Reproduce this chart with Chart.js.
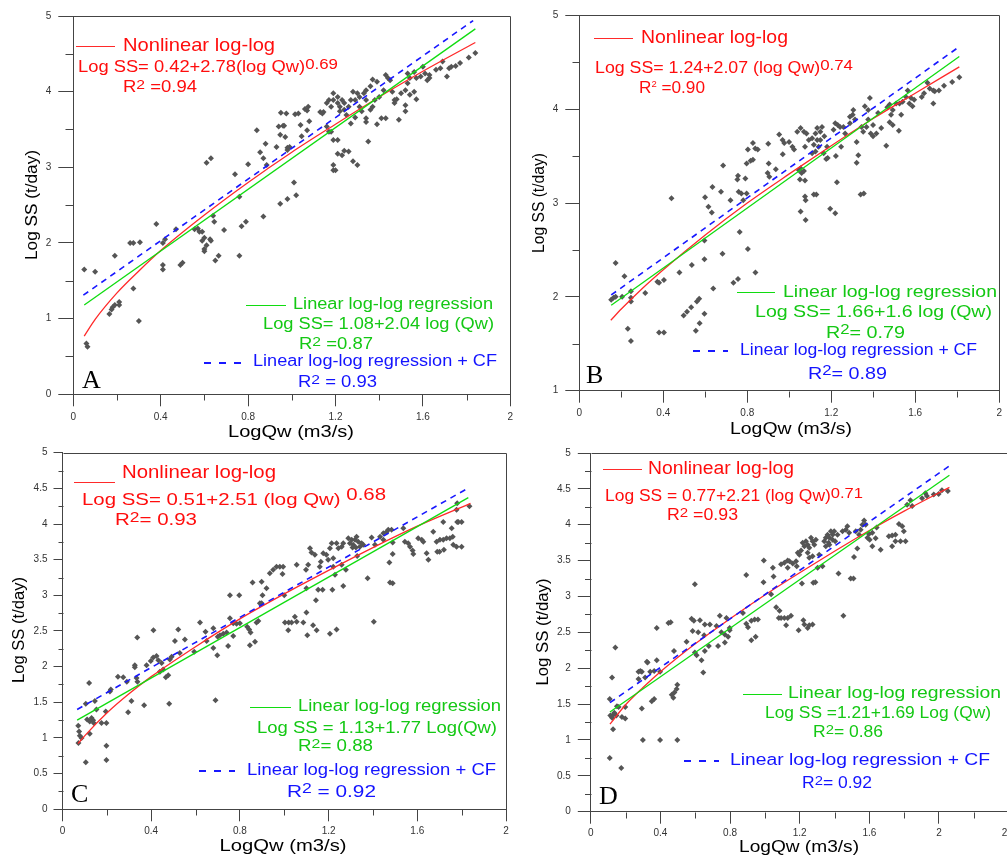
<!DOCTYPE html>
<html><head><meta charset="utf-8">
<script src="https://cdn.jsdelivr.net/npm/chart.js@4/dist/chart.umd.min.js"></script>
<style>
html,body{margin:0;padding:0;background:#fff;overflow:hidden;width:1007px;height:858px;position:relative;}
canvas{position:absolute;}
</style></head><body>
<canvas id="cA"></canvas><canvas id="cB"></canvas><canvas id="cC"></canvas><canvas id="cD"></canvas>
<script>
// ---------------- DATA ----------------
// Panel A
const qwA = [0.05,0.10,0.06,0.065,0.19,0.165,0.175,0.18,0.19,0.21,0.21,0.26,0.275,0.305,0.275,0.30,0.38,0.41,0.41,0.42,0.41,0.47,0.49,0.50,0.555,0.57,0.577,0.59,0.60,0.59,0.60,0.60,0.61,0.626,0.63,0.61,0.63,0.64,0.645,0.65,0.665,0.69,0.74,0.76,0.76,0.77,0.79,0.80,0.84,0.855,0.87,0.88,0.885,0.87,0.93,0.94,0.96,0.965,0.95,0.975,0.947,0.97,0.98,0.98,0.99,0.947,0.98,1.01,1.02,1.015,1.03,1.04,1.045,1.07,1.075,1.06,1.08,1.07,1.13,1.145,1.14,1.16,1.17,1.18,1.16,1.17,1.18,1.19,1.21,1.19,1.19,1.20,1.21,1.23,1.24,1.26,1.28,1.30,
1.19,1.21,1.22,1.23,1.24,1.24,1.25,1.22,1.26,1.27,1.28,1.30,1.31,1.29,1.31,1.32,1.19,1.21,1.27,1.29,1.33,1.34,1.36,1.37,1.39,1.34,1.36,1.34,1.34,1.35,1.37,1.38,1.40,1.42,1.44,1.45,1.43,1.39,1.41,1.43,1.46,1.47,1.47,1.48,1.49,1.50,1.52,1.53,1.54,1.53,1.56,1.57,1.56,1.52,1.52,1.54,1.57,1.59,1.60,1.61,1.62,1.63,1.63,1.66,1.68,1.69,1.71,1.72,1.73,1.75,1.77,1.81,1.84];
const ssA = [1.65,1.62,0.67,0.63,1.83,1.06,1.12,1.15,1.18,1.22,1.18,2.00,2.00,2.01,1.40,0.97,2.25,1.71,1.65,2.05,2.00,2.18,1.71,1.74,2.18,2.19,2.15,2.15,2.07,2.03,1.92,1.89,1.97,2.05,2.03,3.06,3.12,2.36,2.28,1.77,1.83,2.17,2.91,2.61,1.83,2.22,2.28,3.04,3.49,3.20,3.12,3.31,3.03,2.35,3.27,3.54,3.55,3.55,3.72,3.71,3.43,3.40,3.26,3.23,3.27,2.52,2.58,2.80,2.63,3.70,3.71,3.56,3.41,3.75,3.80,3.77,3.61,3.49,3.73,3.73,3.71,3.85,3.89,3.80,3.54,3.47,3.47,3.36,3.36,3.03,2.96,2.96,3.18,3.16,3.22,3.21,3.08,3.03,
3.89,3.85,3.80,3.89,3.85,3.76,3.69,3.74,3.80,3.89,4.00,3.98,3.93,3.89,3.80,3.74,3.98,3.93,3.58,3.66,3.98,4.02,4.07,4.16,4.13,3.89,3.76,3.65,3.60,3.34,3.80,3.89,3.93,4.02,4.18,4.15,4.22,3.57,3.65,3.65,4.00,3.89,3.85,3.90,3.63,3.98,4.02,4.24,4.18,4.11,4.26,4.18,4.00,3.82,3.74,3.96,3.90,4.20,4.33,4.24,4.15,4.22,4.18,4.29,4.31,4.40,4.20,4.31,4.33,4.34,4.38,4.45,4.51];
const nlXA = [0.05,0.1,0.2,0.3,0.4,0.6,0.8,1.0,1.2,1.4,1.6,1.84];
const nlYA = [0.77,0.99,1.34,1.63,1.90,2.37,2.80,3.20,3.57,3.93,4.27,4.65];
const linXA = [0.05,1.84], linYA = [1.18,4.83];
const cfXA = [0.046,1.83], cfYA = [1.31,4.94];

// Panel B
const qwB = [0.152,0.173,0.163,0.173,0.215,0.204,0.246,0.246,0.246,0.231,0.246,0.314,0.372,0.380,0.403,0.380,0.403,0.439,0.477,0.497,0.513,0.533,0.536,0.560,0.571,0.555,0.573,0.596,0.596,0.596,0.599,0.615,0.631,0.634,0.638,0.675,0.682,0.685,0.720,0.734,0.756,0.753,0.756,0.764,0.759,0.772,0.791,0.781,0.797,0.803,0.797,0.816,0.827,0.803,0.827,0.838,0.850,0.839,0.900,0.902,0.897,0.905,0.936,0.952,0.968,0.976,0.969,0.999,1.015,1.023,1.038,1.046,1.054,1.059,1.070,1.051,1.075,1.054,1.078,1.075,1.078,1.054,1.070,1.082,1.117,1.129,1.176,1.183,1.195,1.219,1.227,1.211,1.219,1.231,1.242,1.222,1.247,1.258,1.266,1.321,1.329,1.321,1.340,1.355,1.388,1.399,1.415,1.399,1.423,1.438,1.462,1.478,1.493,1.522,1.533,1.686,1.737,1.776,1.810,
1.075,1.093,1.109,1.117,1.125,1.133,1.140,1.148,1.156,1.133,1.109,1.125,1.148,1.167,1.180,1.164,1.289,1.305,1.289,1.313,1.302,1.344,1.352,1.368,1.376,1.360,1.384,1.376,1.467,1.478,1.493,1.509,1.485,1.525,1.540,1.556,1.564,1.572,1.580,1.587,1.595,1.631,1.642,1.658,1.669,1.686,1.693,1.713];
const ssB = [1.97,2.00,1.99,2.36,2.22,2.00,2.06,1.99,1.95,1.66,1.53,2.04,2.16,2.15,2.18,1.62,1.62,3.05,2.26,1.80,1.84,1.89,2.34,1.95,1.98,1.64,1.72,2.40,2.60,1.82,3.06,2.96,2.90,3.17,2.09,3.12,2.46,3.40,3.03,2.15,2.19,3.25,3.29,2.69,3.12,3.10,3.26,3.03,3.10,2.51,3.42,3.45,3.46,3.57,3.64,3.58,3.57,2.26,3.63,3.42,3.32,3.28,3.36,3.73,3.67,3.64,3.52,3.65,3.60,3.57,3.76,3.35,3.37,3.32,3.34,3.25,3.24,2.91,2.82,3.07,3.03,3.80,3.76,3.74,3.09,3.09,3.47,3.48,2.94,2.89,3.22,3.78,3.85,3.83,3.81,3.50,3.60,3.81,3.74,3.65,3.51,3.43,3.09,3.10,3.74,3.71,3.74,3.83,3.96,3.80,3.61,3.86,3.83,3.77,3.94,4.06,4.25,4.29,4.34,
3.60,3.67,3.69,3.62,3.74,3.67,3.60,3.76,3.81,3.80,3.53,3.55,3.67,3.71,3.60,3.53,3.92,3.99,3.85,3.89,3.94,3.81,3.76,3.81,3.89,4.03,4.12,3.99,4.02,4.05,3.99,4.06,3.94,4.06,4.08,4.13,4.20,4.06,4.12,4.03,4.10,4.13,4.17,4.28,4.22,4.20,4.19,4.20];
const nlXB = [0.15,0.2,0.3,0.4,0.6,0.8,1.0,1.2,1.4,1.6,1.81];
const nlYB = [1.75,1.87,2.09,2.29,2.66,3.00,3.31,3.61,3.90,4.17,4.45];
const linXB = [0.152,1.81], linYB = [1.91,4.56];
const cfXB = [0.152,1.80], cfYB = [2.02,4.65];

// Panel C
const qwC = [0.071,0.075,0.078,0.072,0.086,0.105,0.105,0.12,0.111,0.123,
0.131,0.138,0.141,0.123,0.146,0.153,0.176,0.198,0.198,0.198,
0.195,0.214,0.218,0.25,0.274,0.29,0.296,0.311,0.326,0.326,
0.334,0.338,0.337,0.368,0.379,0.398,0.409,0.424,0.432,0.447,
0.439,0.454,0.41,0.466,0.477,0.481,0.484,0.492,0.507,0.522,
0.529,0.552,0.594,0.62,0.645,0.65,0.68,0.69,0.698,0.68,
0.70,0.71,0.725,0.74,0.747,0.755,0.755,0.77,0.77,0.797,
0.785,0.80,0.833,0.842,0.845,0.848,0.868,0.857,0.875,0.883,
0.89,0.898,0.898,0.902,0.92,0.935,0.95,0.965,0.98,0.995,
0.992,1.0,1.003,1.02,1.033,1.018,1.056,1.048,1.056,1.086,
1.10,1.10,1.104,1.098,1.108,1.116,1.123,1.138,1.13,1.146,
1.143,1.153,1.173,1.16,1.165,1.176,1.19,1.198,1.206,1.214,
1.206,1.221,1.221,1.217,1.229,1.236,1.259,1.266,1.278,1.329,
1.356,1.376,1.394,1.432,1.447,1.404,1.409,1.447,1.462,1.469,
1.484,1.474,1.477,1.489,1.489,1.489,1.537,1.544,1.559,1.567,
1.579,1.582,1.642,1.65,1.672,1.69,1.70,1.72,1.717,1.755,
1.76,1.777,1.78,1.785,1.80,1.78,1.80,1.835,
1.236,1.244,1.259,1.266,1.289,1.296,1.304,1.311,1.319,1.326,1.334,1.341,1.349,1.308,1.323,1.604,1.620,1.627,1.687,1.702,1.717,1.732,1.747,1.762,1.777];
const ssC = [1.17,1.09,1.03,0.93,1.00,1.48,0.66,1.77,1.26,1.23,
1.28,1.25,1.21,1.06,1.52,1.40,1.21,1.21,0.89,0.69,
1.37,1.65,1.68,1.86,1.85,1.79,1.36,1.52,1.99,2.02,
1.84,1.79,2.41,1.46,2.02,2.08,2.13,2.15,2.09,2.05,
1.93,1.96,2.51,1.85,1.88,1.48,2.10,2.14,2.36,2.52,
2.19,2.38,2.21,2.62,2.49,2.36,2.26,1.53,2.16,2.54,
2.42,2.44,2.46,2.48,2.29,2.68,3.00,2.61,2.43,3.00,
2.60,2.61,2.56,2.52,2.30,2.48,2.35,3.18,2.62,2.64,
2.89,2.89,3.19,3.00,3.10,3.31,3.36,3.40,3.40,3.40,
3.30,3.00,2.62,2.62,2.62,2.51,3.43,2.70,2.63,2.62,
2.76,3.10,2.44,3.36,3.43,3.66,3.60,3.57,2.58,2.51,
2.93,3.08,3.08,3.40,3.47,3.59,3.57,3.50,3.66,3.73,
2.46,3.52,3.40,3.08,3.29,2.52,3.43,3.13,3.36,3.55,
3.71,3.24,3.81,3.82,3.87,2.63,3.71,3.78,3.89,3.92,
3.92,3.46,3.18,3.17,3.58,3.74,3.94,3.75,3.73,3.68,
3.63,3.58,3.59,3.50,3.89,3.61,3.61,3.64,4.03,3.94,
3.82,4.20,4.03,4.03,4.03,4.29,3.68,4.25,
3.73,3.66,3.68,3.73,3.80,3.73,3.78,3.71,3.78,3.82,3.75,3.68,3.73,3.67,3.67,3.80,3.78,3.75,3.75,3.78,3.78,3.80,3.80,3.71,3.68];
const nlXC = [0.07,0.1,0.2,0.3,0.4,0.6,0.8,1.0,1.2,1.4,1.6,1.84];
const nlYC = [0.92,1.03,1.35,1.62,1.86,2.28,2.67,3.02,3.35,3.67,3.97,4.29];
const linXC = [0.066,1.83], linYC = [1.25,4.37];
const cfXC = [0.066,1.833], cfYC = [1.40,4.51];

// Panel D
const qwD = [0.109,0.175,0.109,0.112,0.122,0.131,0.135,0.147,0.122,0.128,
0.141,0.15,0.16,0.179,0.198,0.198,0.274,0.284,0.293,0.274,
0.293,0.299,0.312,0.322,0.326,0.341,0.35,0.364,0.364,0.379,
0.379,0.398,0.398,0.446,0.459,0.465,0.474,0.48,0.478,0.493,
0.497,0.497,0.55,0.579,0.592,0.585,0.598,0.598,0.608,0.617,
0.627,0.636,0.646,0.651,0.655,0.655,0.678,0.684,0.722,0.731,
0.741,0.75,0.77,0.789,0.798,0.77,0.779,0.798,0.874,0.893,
0.893,0.903,0.922,0.941,0.96,0.922,0.947,0.994,0.992,1.036,
1.046,1.05,1.065,1.084,1.08,1.093,1.112,1.131,1.15,1.122,
1.093,1.112,1.131,1.141,1.131,1.16,1.179,1.189,1.198,1.208,
1.183,1.194,1.213,1.221,1.227,1.246,1.255,1.274,1.278,1.29,
1.303,1.312,1.331,1.423,1.446,1.465,1.474,1.484,1.451,1.493,
1.509,1.512,1.531,1.617,1.636,1.642,1.665,1.712,1.731,1.75,
1.731,1.75,1.77,1.789,1.798,1.779,1.808,1.817,1.836,1.846,
1.903,1.922,1.931,1.97,1.998,2.017,2.051,
1.217,1.227,1.236,1.246,1.255,1.265,1.274,1.284,1.293,1.246,1.255,1.274,1.341,1.350,1.360,1.370,1.379,1.389,1.398,1.389,1.366,1.404,1.417,1.350,1.370,1.522,1.541,1.550,1.560,1.570,1.579,1.589,1.598,1.617,1.602];
const ssD = [0.75,0.61,1.57,1.34,1.31,1.36,1.38,1.34,1.87,1.15,
2.29,1.47,1.46,1.32,1.30,1.46,1.95,1.96,1.95,1.85,
1.44,1.00,1.87,2.09,2.08,1.95,1.54,1.57,1.96,2.56,
2.11,1.95,1.00,2.63,2.64,1.63,1.59,1.66,2.24,1.71,
1.77,1.00,2.37,2.69,2.66,2.52,3.17,2.22,2.18,2.50,
2.67,2.11,1.94,2.46,2.61,2.24,2.31,2.61,2.59,2.31,
2.73,2.50,2.47,2.44,2.53,2.36,2.70,2.56,2.77,3.30,
2.62,2.57,2.66,2.68,2.68,2.39,2.44,3.50,3.20,3.03,
3.40,3.28,2.85,2.80,2.70,2.70,2.70,2.70,2.73,2.60,
3.45,3.47,3.50,3.49,3.40,3.46,3.49,3.61,3.58,3.64,
3.42,2.53,3.18,2.67,2.61,2.56,2.60,2.61,3.19,3.20,
3.40,3.58,3.42,3.32,3.91,3.93,3.98,3.89,2.73,3.25,
3.25,3.55,3.67,3.70,3.81,3.96,3.65,3.84,3.85,3.86,
3.70,3.77,4.01,3.98,3.91,3.77,3.77,4.28,4.34,4.26,
4.37,4.44,4.40,4.42,4.43,4.48,4.47,
3.75,3.70,3.77,3.72,3.68,3.82,3.77,3.72,3.79,3.61,3.54,3.56,3.77,3.82,3.86,3.82,3.91,3.86,3.91,3.79,3.75,3.77,3.86,3.70,3.72,3.91,3.86,3.93,4.00,4.06,4.00,3.82,3.87,3.89,3.79];
const nlXD = [0.11,0.2,0.3,0.4,0.6,0.8,1.0,1.2,1.4,1.6,1.8,2.06];
const nlYD = [1.22,1.49,1.73,1.95,2.34,2.69,3.02,3.33,3.63,3.92,4.19,4.52];
const linXD = [0.11,2.06], linYD = [1.39,4.69];
const cfXD = [0.11,2.06], cfYD = [1.52,4.82];

// Tick values
const xTicks2 = [0,0.4,0.8,1.2,1.6,2];
const xMinor2 = [0.2,0.6,1.0,1.4,1.8];
const xTicks24 = [0,0.4,0.8,1.2,1.6,2,2.4];
const xMinor24 = [0.2,0.6,1.0,1.4,1.8,2.2];
const yTicksInt0 = [0,1,2,3,4,5];
const yMinorInt0 = [0.5,1.5,2.5,3.5,4.5];
const yTicksInt1 = [1,2,3,4,5];
const yMinorInt1 = [1.5,2.5,3.5,4.5];
const yTicksHalf = [0,0.5,1,1.5,2,2.5,3,3.5,4,4.5,5];
const yMinorHalf = [0.25,0.75,1.25,1.75,2.25,2.75,3.25,3.75,4.25,4.75];

// Texts
const xTitle = 'LogQw (m3/s)';
const yTitle = 'Log SS (t/day)';

// ---------------- STYLE / LAYOUT ----------------
const FONT = "'Liberation Sans', Arial, sans-serif";
const SERIF = "'Liberation Serif', 'Times New Roman', serif";
const RED = '#ff0d0d', GREEN = '#14c814', BLUE = '#1414ff';
const RED_L = '#ff2a2a', GREEN_L = '#10dc10', BLUE_L = '#1818ff';
const AXIS = '#444';
const R2 = (rest, k) => [['R'], ['2', -3, k || 0.85], [rest]];

const panels = [
 {id:'A', left:0, top:0, w:520, h:440, area:{l:73.3,r:510.3,t:16,b:394.3},
  xMax:2, yMin:0, yMax:5, xTicks:xTicks2, xMinor:xMinor2, yTicks:yTicksInt0, yMinor:yMinorInt0,
  yTickLen:15, yMinorLen:8, yPad:7, xPad:5,
  qw:qwA, ss:ssA, nlX:nlXA, nlY:nlYA, linX:linXA, linY:linYA, cfX:cfXA, cfY:cfYA,
  lines:[[76,115,45.7,RED_L],[246,286,305,GREEN_L],[204,241,362.5,BLUE_L,true]],
  texts:[
   {x:123,y:46,size:18.5,w:152,c:RED,segs:[['Nonlinear log-log']]},
   {x:78,y:68,size:16,w:260,c:RED,segs:[['Log SS= 0.42+2.78(log Qw)'],['0.69',-3.5,0.92]]},
   {x:123,y:88,size:16,w:74,c:RED,segs:R2(' =0.94')},
   {x:293,y:305,size:16,w:200,c:GREEN,segs:[['Linear log-log regression']]},
   {x:263,y:325,size:16,w:231,c:GREEN,segs:[['Log SS= 1.08+2.04 log (Qw)']]},
   {x:299,y:345,size:16,w:74,c:GREEN,segs:R2(' =0.87')},
   {x:253,y:362,size:16,w:244,c:BLUE,segs:[['Linear log-log regression + CF']]},
   {x:298,y:383,size:16,w:79,c:BLUE,segs:R2(' = 0.93')}
  ],
  letter:{t:'A',x:82,y:381}, xt:{cx:291,y:433,w:126}, yt:{cx:32,cy:205,w:110}},
 {id:'B', left:520, top:0, w:487, h:440, area:{l:579.3,r:1002.5,t:15.3,b:390.7},
  xMax:2, yMin:1, yMax:5, xTicks:xTicks2, xMinor:xMinor2, yTicks:yTicksInt1, yMinor:yMinorInt1,
  yTickLen:14, yMinorLen:7, yPad:7, xPad:5,
  qw:qwB, ss:ssB, nlX:nlXB, nlY:nlYB, linX:linXB, linY:linYB, cfX:cfXB, cfY:cfYB,
  lines:[[594,633,38,RED_L],[737,775,292,GREEN_L],[693,728,351,BLUE_L,true]],
  texts:[
   {x:641,y:38,size:18,w:147,c:RED,segs:[['Nonlinear log-log']]},
   {x:595,y:69,size:16,w:258,c:RED,segs:[['Log SS= 1.24+2.07 (log Qw)'],['0.74',-3,0.95]]},
   {x:639,y:89,size:16,w:66,c:RED,segs:[['R'],['2',-4,0.55],[' =0.90']]},
   {x:783,y:292,size:16.5,w:214,c:GREEN,segs:[['Linear log-log regression']]},
   {x:755,y:312,size:16.5,w:237,c:GREEN,segs:[['Log SS= 1.66+1.6 log (Qw)']]},
   {x:826,y:333,size:16.5,w:79,c:GREEN,segs:R2('= 0.79')},
   {x:740,y:351,size:16,w:237,c:BLUE,segs:[['Linear log-log regression + CF']]},
   {x:808,y:374,size:16.5,w:79,c:BLUE,segs:R2('= 0.89')}
  ],
  letter:{t:'B',x:586,y:376}, xt:{cx:791,y:430,w:122}, yt:{cx:539,cy:203,w:100}},
 {id:'C', left:0, top:440, w:520, h:418, area:{l:62.5,r:506,t:452.7,b:809.3},
  xMax:2, yMin:0, yMax:5, xTicks:xTicks2, xMinor:xMinor2, yTicks:yTicksHalf, yMinor:yMinorHalf,
  yTickLen:9, yMinorLen:5, yPad:6, xPad:4,
  qw:qwC, ss:ssC, nlX:nlXC, nlY:nlYC, linX:linXC, linY:linYC, cfX:cfXC, cfY:cfYC,
  lines:[[74,115,482,RED_L],[250,291,707,GREEN_L],[199,235,771,BLUE_L,true]],
  texts:[
   {x:122,y:473,size:18,w:154,c:RED,segs:[['Nonlinear log-log']]},
   {x:82,y:500.7,size:16.5,w:304,c:RED,segs:[['Log SS= 0.51+2.51 (log Qw) '],['0.68',-5.5,1]]},
   {x:115,y:520.7,size:16.5,w:82,c:RED,segs:R2('= 0.93')},
   {x:298,y:707,size:16,w:203,c:GREEN,segs:[['Linear log-log regression']]},
   {x:257,y:729,size:16,w:240,c:GREEN,segs:[['Log SS = 1.13+1.77 Log(Qw)']]},
   {x:298,y:747,size:16,w:75,c:GREEN,segs:R2('= 0.88')},
   {x:247,y:771,size:16,w:249,c:BLUE,segs:[['Linear log-log regression + CF']]},
   {x:287,y:792,size:16.5,w:89,c:BLUE,segs:R2(' = 0.92')}
  ],
  letter:{t:'C',x:71,y:795}, xt:{cx:283,y:846.7,w:127}, yt:{cx:19,cy:630,w:106}},
 {id:'D', left:520, top:440, w:500, h:418, area:{l:590.8,r:1008.6,t:451.7,b:811.7},
  xMax:2.4, yMin:0, yMax:5, xTicks:xTicks24, xMinor:xMinor24, yTicks:yTicksHalf, yMinor:yMinorHalf,
  yTickLen:13, yMinorLen:6.5, yPad:7, xPad:4,
  qw:qwD, ss:ssD, nlX:nlXD, nlY:nlYD, linX:linXD, linY:linYD, cfX:cfXD, cfY:cfYD,
  lines:[[603,642,469,RED_L],[743,782,694,GREEN_L],[684,719,761,BLUE_L,true]],
  texts:[
   {x:648,y:469,size:18,w:146,c:RED,segs:[['Nonlinear log-log']]},
   {x:605,y:497,size:16,w:258,c:RED,segs:[['Log SS = 0.77+2.21 (log Qw)'],['0.71',-3,0.95]]},
   {x:667,y:516,size:16,w:71,c:RED,segs:R2(' =0.93')},
   {x:788,y:694,size:16,w:213,c:GREEN,segs:[['Linear log-log regression']]},
   {x:765,y:714,size:16,w:226,c:GREEN,segs:[['Log SS =1.21+1.69 Log (Qw)']]},
   {x:813,y:733,size:16,w:70,c:GREEN,segs:R2('= 0.86')},
   {x:730,y:761,size:16,w:260,c:BLUE,segs:[['Linear log-log regression + CF']]},
   {x:802,y:784,size:16,w:70,c:BLUE,segs:R2('= 0.92')}
  ],
  letter:{t:'D',x:599,y:797}, xt:{cx:799,y:848,w:120}, yt:{cx:543,cy:632,w:107}}
];

function fmt(v){ return String(Math.round(v*100)/100); }
const al = v => Math.round(v) + 0.5;

function drawRich(ctx, segs, size, family, color, targetW, align) {
  let nat = 0;
  const ws = segs.map(s => { ctx.font = (size*(s[2]||1)).toFixed(2)+'px '+family; const w = ctx.measureText(s[0]).width; nat += w; return w; });
  const sx = targetW ? targetW/nat : 1;
  ctx.save();
  ctx.scale(sx, 1);
  ctx.fillStyle = color; ctx.textBaseline = 'middle'; ctx.textAlign = 'left';
  let cx = align === 'center' ? -nat/2 : 0;
  segs.forEach((s,i) => { ctx.font = (size*(s[2]||1)).toFixed(2)+'px '+family; ctx.fillText(s[0], cx, s[1]||0); cx += ws[i]; });
  ctx.restore();
}

function decor(p) {
  return {
    id: 'decor'+p.id,
    afterDraw(chart) {
      const ctx = chart.ctx, a = chart.chartArea, xs = chart.scales.x, ys = chart.scales.y;
      const ox = p.left, oy = p.top;
      ctx.save();
      ctx.strokeStyle = AXIS; ctx.lineWidth = 1; ctx.setLineDash([]);
      ctx.beginPath();
      ctx.moveTo(al(a.left), al(a.top)); ctx.lineTo(al(a.right), al(a.top)); ctx.lineTo(al(a.right), al(a.bottom));
      p.xMinor.forEach(v => { const x = al(xs.getPixelForValue(v)); ctx.moveTo(x, al(a.bottom)); ctx.lineTo(x, al(a.bottom)+6); });
      p.yMinor.forEach(v => { const y = al(ys.getPixelForValue(v)); ctx.moveTo(al(a.left)-p.yMinorLen, y); ctx.lineTo(al(a.left), y); });
      ctx.stroke();
      // legend samples
      p.lines.forEach(l => {
        ctx.beginPath(); ctx.strokeStyle = l[3];
        if (l[4]) { ctx.lineWidth = 2.2; ctx.setLineDash([7,8]); ctx.moveTo(l[0]-ox, Math.round(l[2]-oy)); ctx.lineTo(l[1]-ox, Math.round(l[2]-oy)); }
        else { ctx.lineWidth = 1; ctx.setLineDash([]); ctx.moveTo(l[0]-ox, al(l[2]-oy)); ctx.lineTo(l[1]-ox, al(l[2]-oy)); }
        ctx.stroke();
      });
      ctx.setLineDash([]);
      // annotation texts
      p.texts.forEach(t => {
        ctx.save(); ctx.translate(t.x-ox, t.y-oy);
        drawRich(ctx, t.segs, t.size, FONT, t.c, t.w, 'left');
        ctx.restore();
      });
      // panel letter
      ctx.save(); ctx.fillStyle = '#000'; ctx.font = '26px '+SERIF; ctx.textBaseline='middle'; ctx.textAlign='left';
      ctx.fillText(p.letter.t, p.letter.x-ox, p.letter.y-oy); ctx.restore();
      // axis titles
      ctx.save(); ctx.translate(p.xt.cx-ox, p.xt.y-oy);
      drawRich(ctx, [[xTitle]], 16, FONT, '#000', p.xt.w, 'center'); ctx.restore();
      ctx.save(); ctx.translate(p.yt.cx-ox, p.yt.cy-oy); ctx.rotate(-Math.PI/2);
      drawRich(ctx, [[yTitle]], 17, FONT, '#000', p.yt.w, 'center'); ctx.restore();
      ctx.restore();
    }
  };
}

function makeChart(p) {
  const canvas = document.getElementById('c'+p.id);
  canvas.width = p.w; canvas.height = p.h;
  canvas.style.left = p.left+'px'; canvas.style.top = p.top+'px';
  canvas.style.width = p.w+'px'; canvas.style.height = p.h+'px';
  const yW = p.area.l - p.left, padTop = p.area.t - p.top, padRight = p.left + p.w - p.area.r, xH = p.top + p.h - p.area.b;
  const toXY = (xs, ys) => xs.map((x,i) => ({x:x, y:ys[i]}));
  new Chart(canvas, {
    type: 'scatter',
    data: { datasets: [
      {data: toXY(p.nlX,p.nlY), showLine:true, borderColor:RED_L, borderWidth:1.3, pointRadius:0, cubicInterpolationMode:'monotone', order:3},
      {data: toXY(p.linX,p.linY), showLine:true, borderColor:GREEN_L, borderWidth:1.3, pointRadius:0, order:2},
      {data: toXY(p.cfX,p.cfY), showLine:true, borderColor:BLUE_L, borderWidth:1.6, borderDash:[6,5], pointRadius:0, order:1},
      {data: toXY(p.qw,p.ss), pointStyle:'rectRot', pointRadius:3, backgroundColor:'#555', borderWidth:0, order:4}
    ]},
    options: {
      responsive:false, animation:false, devicePixelRatio:1, events:[],
      layout:{padding:{left:0, top:padTop, right:padRight, bottom:0}},
      plugins:{legend:{display:false}, tooltip:{enabled:false}, title:{display:false}},
      scales:{
        x:{type:'linear', min:0, max:p.xMax,
          afterBuildTicks: s => { s.ticks = p.xTicks.map(v => ({value:v})); },
          afterFit: s => { s.height = xH; },
          ticks:{autoSkip:false, maxRotation:0, minRotation:0, padding:p.xPad, color:'#333', font:{family:FONT, size:10}, callback: v => fmt(v)},
          grid:{display:true, drawOnChartArea:false, drawTicks:true, tickLength:12, tickColor:AXIS, tickWidth:1, color:AXIS},
          border:{display:true, color:AXIS, width:1}},
        y:{type:'linear', min:p.yMin, max:p.yMax,
          afterBuildTicks: s => { s.ticks = p.yTicks.map(v => ({value:v})); },
          afterFit: s => { s.width = yW; },
          ticks:{autoSkip:false, padding:p.yPad, color:'#333', font:{family:FONT, size:10}, callback: v => fmt(v)},
          grid:{display:true, drawOnChartArea:false, drawTicks:true, tickLength:p.yTickLen, tickColor:AXIS, tickWidth:1, color:AXIS},
          border:{display:true, color:AXIS, width:1}}
      }
    },
    plugins:[decor(p)]
  });
}
panels.forEach(makeChart);
</script>
</body></html>
